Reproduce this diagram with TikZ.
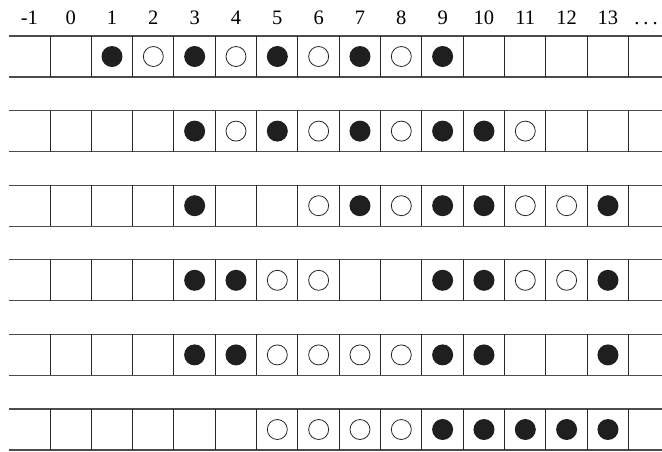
\documentclass[tikz,border=0pt]{standalone}
\usepackage{fontspec}
\setmainfont{Liberation Serif}
\tikzset{
  blk/.style={circle, fill=black!88, inner sep=0pt, minimum size=21pt},
  wht/.style={circle, draw=black!85, line width=0.8pt, fill=white, inner sep=0pt, minimum size=20pt},
  rowline/.style={black!70, line width=1.3pt},
  cellsep/.style={black!85, line width=1pt},
}
\begin{document}
\begin{tikzpicture}[x=1pt, y=-1pt, font=\fontsize{20.5}{24}\selectfont]
  \useasboundingbox (0,0) rectangle (662,451);
  % column numbers
  \foreach \t [count=\i from -1] in {-1,0,1,2,3,4,5,6,7,8,9,10,11,12,13}
    \node[inner sep=0pt, anchor=base] (lbl\i) at ({70.67+41.33*\i},24.5) {\t};
  \node[inner sep=0pt, anchor=base] (lbldots) at (646,24.5) {.\kern4pt.\kern4pt.};
  % strips
  \foreach \row/\blacks/\whites [count=\r from 0] in {
      a/{1,3,5,7,9}/{2,4,6,8},
      b/{3,5,7,9,10}/{4,6,8,11},
      c/{3,7,9,10,13}/{6,8,11,12},
      d/{3,4,9,10,13}/{5,6,11,12},
      e/{3,4,9,10,13}/{5,6,7,8},
      f/{9,10,11,12,13}/{5,6,7,8}} {
    \draw[rowline] (8.7,{36+74.6*\r}) -- (662,{36+74.6*\r});
    \draw[rowline] (8.7,{77+74.6*\r}) -- (662,{77+74.6*\r});
    \foreach \k in {0,...,14}
      \draw[cellsep] ({50+41.33*\k},{36+74.6*\r}) -- ({50+41.33*\k},{77+74.6*\r});
    \foreach \c in \blacks
      \node[blk] (\row\c) at ({70.67+41.33*\c},{56.5+74.6*\r}) {};
    \foreach \c in \whites
      \node[wht] (\row\c) at ({70.67+41.33*\c},{56.5+74.6*\r}) {};
  }
\end{tikzpicture}
\end{document}
